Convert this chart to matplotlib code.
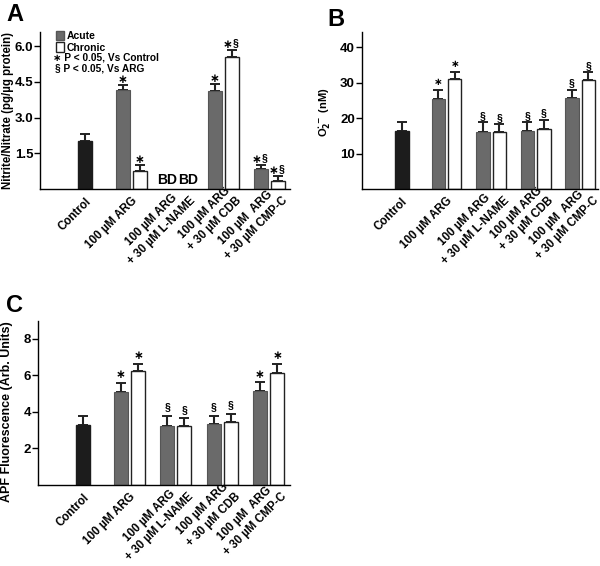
import matplotlib
matplotlib.use("Agg")
import matplotlib.pyplot as plt
import matplotlib.transforms as mtrans
from matplotlib.patches import Patch
import numpy as np

plt.rcParams['font.family'] = ['Liberation Sans', 'DejaVu Sans']
plt.rcParams['font.weight'] = 'bold'
plt.rcParams['mathtext.default'] = 'bf'

groups = ["Control", "100 \u00b5M ARG", "100 \u00b5M ARG\n+ 30 \u00b5M L-NAME",
          "100 \u00b5M ARG\n+ 30 \u00b5M CDB", "100 \u00b5M  ARG\n+ 30 \u00b5M CMP-C"]

# panel A: nitrite/nitrate (BD = below detection)
a_ctrl, a_ctrl_err = 2.03, 0.27
a_acute = [4.15, np.nan, 4.13, 0.82]
a_acute_err = [0.20, np.nan, 0.26, 0.20]
a_chron = [0.75, np.nan, 5.55, 0.35]
a_chron_err = [0.26, np.nan, 0.30, 0.20]
a_acute_sig = ["*", "", "*", "*\u00a7"]
a_chron_sig = ["*", "", "*\u00a7", "*\u00a7"]

# panel B: superoxide
b_ctrl, b_ctrl_err = 16.4, 2.6
b_acute = [25.5, 16.2, 16.5, 25.7]
b_acute_err = [2.5, 2.7, 2.3, 2.3]
b_chron = [31.0, 16.2, 17.0, 30.9]
b_chron_err = [2.0, 2.1, 2.5, 2.1]
b_acute_sig = ["*", "\u00a7", "\u00a7", "\u00a7"]
b_chron_sig = ["*", "\u00a7", "\u00a7", "\u00a7"]

# panel C: APF fluorescence
c_ctrl, c_ctrl_err = 3.29, 0.50
c_acute = [5.09, 3.25, 3.34, 5.15]
c_acute_err = [0.50, 0.54, 0.45, 0.46]
c_chron = [6.24, 3.25, 3.43, 6.14]
c_chron_err = [0.39, 0.40, 0.46, 0.47]
c_acute_sig = ["*", "\u00a7", "\u00a7", "*"]
c_chron_sig = ["*", "\u00a7", "\u00a7", "*"]

ctrl_col = '#1c1c1c'
acute_col = '#6a6a6a'
w = 0.30
off = 0.185


def mark(ax, x, top, s, star_size, star_dy, sec_dy):
    # significance symbols sitting on top of the error bar
    n = len(s)
    for i, ch in enumerate(s):
        dx = (i - (n - 1) / 2) * 5.5
        if ch == "*":
            ax.annotate("\u2217", (x, top), xytext=(dx, star_dy), textcoords='offset points',
                        ha='center', va='center', fontsize=star_size, fontweight='bold',
                        fontfamily='DejaVu Sans')
        else:
            ax.annotate("\u00a7", (x, top), xytext=(dx, sec_dy), textcoords='offset points',
                        ha='center', va='baseline', fontsize=7.5, fontweight='bold')


def panel(ax, ctrl, ctrl_err, acute, acute_err, chron, chron_err,
          acute_sig, chron_sig, ymax, yticks, ylabel, star_size, star_dy, sec_dy):
    x = np.arange(1, 5)
    ax.bar(0, ctrl, w, color=ctrl_col, edgecolor=ctrl_col, zorder=2)
    ax.errorbar(0, ctrl, yerr=[[0], [ctrl_err]], fmt='none', ecolor='#222222',
                elinewidth=1.5, capsize=3.5, capthick=1.4, zorder=1)
    ax.bar(x - off, acute, w, color=acute_col, edgecolor='#555555', lw=0.8, zorder=2)
    ax.bar(x + off, chron, w, color='white', edgecolor='#222222', lw=1.0, zorder=2)
    ax.errorbar(x - off, acute, yerr=[np.zeros(4), acute_err], fmt='none',
                ecolor='#222222', elinewidth=1.5, capsize=3.5, capthick=1.4, zorder=1)
    ax.errorbar(x + off, chron, yerr=[np.zeros(4), chron_err], fmt='none',
                ecolor='#222222', elinewidth=1.5, capsize=3.5, capthick=1.4, zorder=1)
    for xi, v, e, s in zip(x - off, acute, acute_err, acute_sig):
        if s:
            mark(ax, xi, v + e, s, star_size, star_dy, sec_dy)
    for xi, v, e, s in zip(x + off, chron, chron_err, chron_sig):
        if s:
            mark(ax, xi, v + e, s, star_size, star_dy, sec_dy)
    ax.set_ylim(0, ymax)
    ax.set_yticks(yticks)
    ax.set_xticks(np.arange(5))
    ax.set_xticklabels(groups, rotation=45, ha='right', va='center', multialignment='center',
                       rotation_mode='anchor', fontsize=8.3, fontweight='bold',
                       linespacing=1.3)
    ax.tick_params(axis='x', length=0, pad=7.5)
    ax.tick_params(axis='y', length=4, width=1, labelsize=9.5, pad=1)
    # labels sit a little right of their group (after tick_params, which resets transforms);
    # two-line labels slide further along their slant
    for t, g in zip(ax.get_xticklabels(), groups):
        dx, dy = (11, 6) if "\n" in g else (4, 0)
        shift = mtrans.ScaledTranslation(dx / 100, dy / 100, ax.figure.dpi_scale_trans)
        t.set_transform(t.get_transform() + shift)
    for t in ax.get_yticklabels():
        t.set_fontweight('bold')
    for sp in ['top', 'right']:
        ax.spines[sp].set_visible(False)
    ax.spines['left'].set_linewidth(1)
    ax.spines['bottom'].set_linewidth(1)
    ax.set_ylabel(ylabel, fontweight='bold')


fig = plt.figure(figsize=(6, 5.66), dpi=100)

axA = fig.add_axes([0.067, 0.666, 0.417, 0.278])
panel(axA, a_ctrl, a_ctrl_err, a_acute, a_acute_err, a_chron, a_chron_err,
      a_acute_sig, a_chron_sig, 6.6, [1.5, 3.0, 4.5, 6.0],
      "Nitrite/Nitrate (pg/\u00b5g protein)", 8.5, 4.0, 2.9)
axA.set_yticklabels(["1.5", "3.0", "4.5", "6.0"], fontweight='bold')
axA.set_xlim(-0.98, 4.46)
axA.yaxis.label.set_fontsize(8.3)
axA.yaxis.set_label_coords(-0.104, 0.5)
axA.text(2 - off - 0.04, 0.38, "BD", ha='center', va='center', fontsize=10, fontweight='bold')
axA.text(2 + off + 0.06, 0.38, "BD", ha='center', va='center', fontsize=10, fontweight='bold')
leg = axA.legend(handles=[Patch(facecolor=acute_col, edgecolor='#555555'),
                          Patch(facecolor='white', edgecolor='#222222')],
                 labels=["Acute", "Chronic"], loc='upper left',
                 bbox_to_anchor=(0.045, 1.03), frameon=False, fontsize=7.5,
                 handlelength=0.85, handleheight=1.0, handletextpad=0.25,
                 labelspacing=0.1, borderaxespad=0)
for t in leg.get_texts():
    t.set_fontweight('bold')
axA.text(0.052, 0.866, "\u2217 P < 0.05, Vs Control", transform=axA.transAxes,
         fontsize=7.3, fontweight='bold', va='top')
axA.text(0.06, 0.796, "\u00a7 P < 0.05, Vs ARG", transform=axA.transAxes,
         fontsize=7.3, fontweight='bold', va='top')

axB = fig.add_axes([0.603, 0.666, 0.393, 0.278])
panel(axB, b_ctrl, b_ctrl_err, b_acute, b_acute_err, b_chron, b_chron_err,
      b_acute_sig, b_chron_sig, 44.4, [10, 20, 30, 40],
      r"O$_2^{\bullet-}$ (nM)", 7.5, 5.5, 2.5)
axB.set_xlim(-0.9, 4.39)
axB.yaxis.label.set_fontsize(8)
axB.yaxis.set_label_coords(-0.125, 0.49)

axC = fig.add_axes([0.063, 0.143, 0.42, 0.289])
panel(axC, c_ctrl, c_ctrl_err, c_acute, c_acute_err, c_chron, c_chron_err,
      c_acute_sig, c_chron_sig, 8.93, [2, 4, 6, 8],
      "APF Fluorescence (Arb. Units)", 8.5, 5.8, 4.0)
axC.set_xlim(-0.98, 4.46)
axC.yaxis.label.set_fontsize(9)
axC.yaxis.set_label_coords(-0.1, 0.45)

fig.text(0.01, 0.995, "A", fontsize=17, fontweight='bold', va='top')
fig.text(0.545, 0.985, "B", fontsize=17, fontweight='bold', va='top')
fig.text(0.01, 0.48, "C", fontsize=17, fontweight='bold', va='top')

fig.savefig("out.png", dpi=100)
